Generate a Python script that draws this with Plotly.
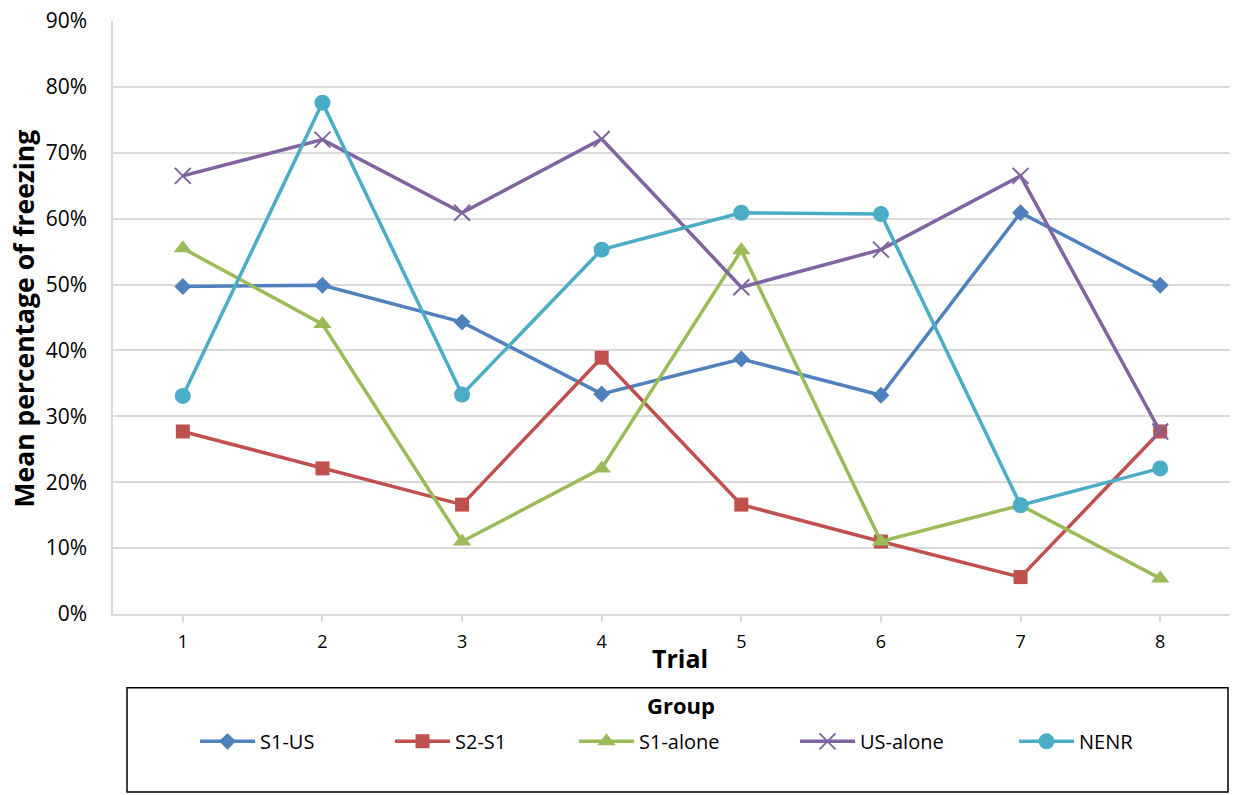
import plotly.graph_objects as go

# Mean freezing per trial for each group (fractions)
trials = [1, 2, 3, 4, 5, 6, 7, 8]
s1_us = [0.497, 0.499, 0.443, 0.334, 0.387, 0.332, 0.609, 0.499]
s2_s1 = [0.277, 0.221, 0.166, 0.389, 0.166, 0.110, 0.056, 0.277]
s1_alone = [0.555, 0.440, 0.110, 0.221, 0.552, 0.110, 0.165, 0.054]
us_alone = [0.665, 0.720, 0.609, 0.721, 0.496, 0.553, 0.665, 0.277]
nenr = [0.331, 0.776, 0.333, 0.553, 0.609, 0.607, 0.165, 0.221]

group_names = ["S1-US", "S2-S1", "S1-alone", "US-alone", "NENR"]
tick_labels = ["0%", "10%", "20%", "30%", "40%", "50%", "60%", "70%", "80%", "90%"]

series = [s1_us, s2_s1, s1_alone, us_alone, nenr]
colors = ["#4F81BD", "#C0504D", "#9BBB59", "#8064A2", "#4BACC6"]
markers = [
    dict(symbol="diamond", size=13),
    dict(symbol="square", size=14),
    dict(symbol="triangle-up", size=16),
    dict(symbol="x-thin", size=16, line=dict(width=2)),
    dict(symbol="circle", size=16),
]

FONT = "'Open Sans', sans-serif"
W, H = 1236, 795
L, R, T, B = 113, 6, 18, 181
plot_w = W - L - R
plot_h = H - T - B

def px_x(px):
    return (px - L) / plot_w

def px_y(py):
    return (H - B - py) / plot_h

fig = go.Figure()
legend_x = [203, 398, 582, 803, 1022]
for i, (name, ys, col, mk) in enumerate(zip(group_names, series, colors, markers)):
    m = dict(mk)
    m["color"] = col
    if "line" in m:
        m["line"] = dict(m["line"], color=col)
    lg = "legend" if i == 0 else f"legend{i + 1}"
    fig.add_trace(go.Scatter(
        x=trials, y=ys, name=name, mode="lines+markers",
        line=dict(color=col, width=3.5), marker=m, legend=lg,
    ))

layout_legends = {}
for i, lx in enumerate(legend_x):
    key = "legend" if i == 0 else f"legend{i + 1}"
    layout_legends[key] = dict(
        x=px_x(lx - 8), y=px_y(742), xanchor="left", yanchor="middle",
        bgcolor="rgba(0,0,0,0)", borderwidth=0,
        font=dict(family=FONT, size=20, color="#000000"),
        itemwidth=55,
    )

fig.update_layout(
    width=W, height=H,
    margin=dict(l=L, r=R, t=T, b=B),
    paper_bgcolor="white", plot_bgcolor="white",
    font=dict(family=FONT, color="#000000"),
    showlegend=True,
    **layout_legends,
)

fig.update_xaxes(
    range=[0.5, 8.5], tickvals=trials, ticktext=[str(t) for t in trials],
    showgrid=False, zeroline=False,
    showline=True, linecolor="#D9D9D9", linewidth=1.5,
    ticks="outside", ticklen=6, tickcolor="#D9D9D9", tickwidth=1.5,
    ticklabelstandoff=5,
    tickfont=dict(family=FONT, size=18, color="#000000"),
)
fig.update_yaxes(
    range=[0, 0.9], tickvals=[i / 10 for i in range(10)], ticktext=tick_labels,
    showgrid=True, gridcolor="#D9D9D9", gridwidth=1.5,
    zeroline=False, showline=True, linecolor="#D9D9D9", linewidth=1.5,
    ticks="", ticklabelstandoff=20,
    tickfont=dict(family=FONT, size=21, color="#000000"),
)

# Axis titles
fig.add_annotation(
    xref="paper", yref="paper", x=px_x(24), y=px_y(317),
    xanchor="center", yanchor="middle", textangle=-90,
    text="<b>Mean percentage of freezing</b>", showarrow=False,
    font=dict(family=FONT, size=26.5, color="#000000"),
)
fig.add_annotation(
    xref="paper", yref="paper", x=px_x(680), y=px_y(658),
    xanchor="center", yanchor="middle",
    text="<b>Trial</b>", showarrow=False,
    font=dict(family=FONT, size=25, color="#000000"),
)

# Legend frame and its heading
fig.add_shape(
    type="rect", xref="paper", yref="paper",
    x0=px_x(127), x1=px_x(1228), y0=px_y(793), y1=px_y(688),
    line=dict(color="#000000", width=1.5), fillcolor="rgba(0,0,0,0)",
)
fig.add_annotation(
    xref="paper", yref="paper", x=px_x(681), y=px_y(705),
    xanchor="center", yanchor="middle",
    text="<b>Group</b>", showarrow=False,
    font=dict(family=FONT, size=22, color="#000000"),
)

fig.write_html("out.html")
